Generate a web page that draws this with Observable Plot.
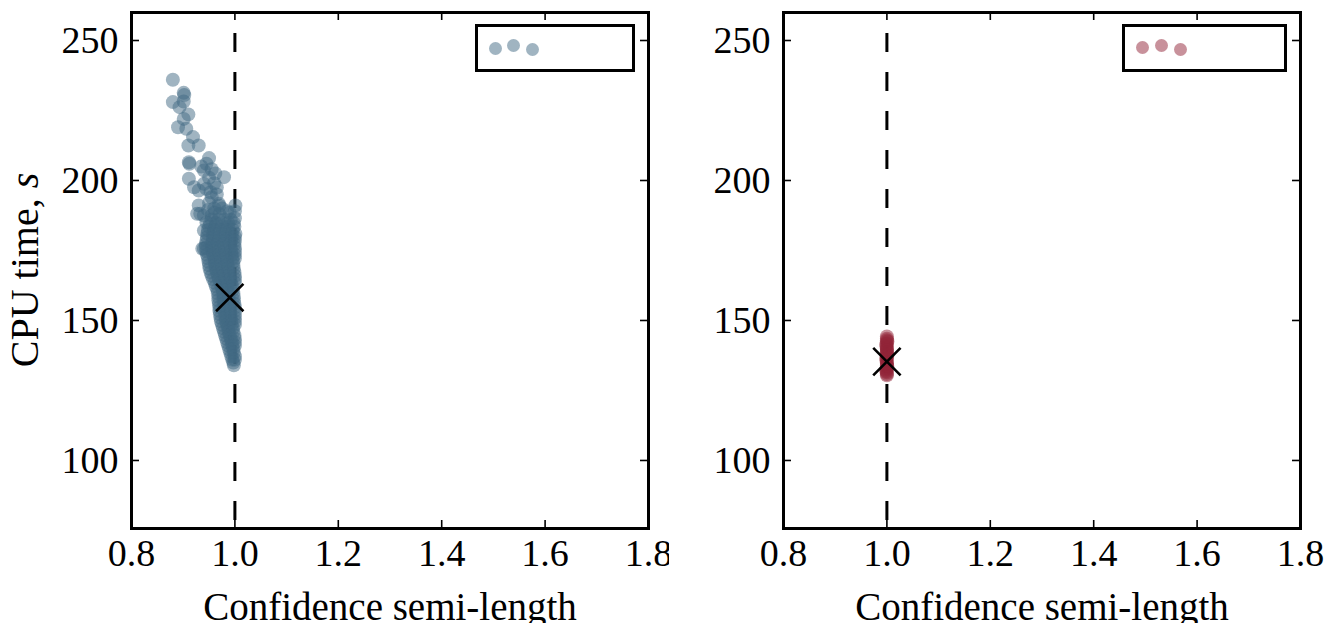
<!DOCTYPE html>
<html><head><meta charset="utf-8">
<script src="https://cdn.jsdelivr.net/npm/d3@7"></script>
<script src="https://cdn.jsdelivr.net/npm/@observablehq/plot@0.6"></script>
<style>
body{margin:0;background:#fff;}
#wrap{position:relative;width:1338px;height:623px;display:flex;overflow:hidden;}
#wrap svg{flex:none;}
.legend{position:absolute;border:3px solid #000;box-sizing:border-box;background:#fff;}
.legend span{position:absolute;width:13px;height:13px;border-radius:50%;}
</style></head><body><div id="wrap"></div>
<script>
// ---- data ----
const xTicks = [0.8, 1.0, 1.2, 1.4, 1.6, 1.8];
const yTicks = [100, 150, 200, 250];
const xDomain = [0.8, 1.8];
const yDomain = [75.7, 260];
const xLabel = "Confidence semi-length";
const yLabelMain = "CPU time, ";
const yLabelVar = "s";
const refX = 1.0;

// left panel: [semi-length, CPU time]
const leftPoints = [
  [0.880,236.0],[0.901,231.3],[0.902,230.5],[0.880,228.0],[0.901,228.2],[0.893,226.2],
  [0.910,223.6],[0.901,222.0],[0.890,219.0],[0.906,218.5],[0.919,215.5],[0.910,212.5],
  [0.930,212.5],[0.950,208.0],[0.911,206.5],[0.912,206.0],[0.940,203.6],[0.979,201.2],
  [0.911,200.6],[0.921,197.6],[0.940,198.8],[0.953,195.8],[0.930,191.1],[0.933,188.1],
  [0.969,191.7],[0.970,191.0],[1.001,191.1],[0.940,182.1],[0.940,175.6],[0.930,196.4],
  [0.927,188.1],[0.940,187.5],[0.937,175.6],[0.935,205.0],[0.945,206.0],[0.955,204.0],
  [0.950,201.0],[0.960,199.0],[0.945,197.0],[0.955,194.0],[0.965,195.0],[0.950,192.0],
  [0.960,190.0],[0.970,188.0],[0.955,187.5],[0.945,185.0],[0.985,189.0],[0.962,202.5],
  [0.990,188.5],[1.000,189.0],[0.975,190.0],[0.960,188.5],[0.948,189.5],[0.965,197.5],
  [0.955,186.0],[0.968,186.0],[0.980,186.0],[0.992,186.0],[1.000,186.5],
  [0.952,184.7],[0.963,184.7],[0.975,184.7],[0.987,184.7],[0.998,184.7],
  [0.950,183.5],[0.962,183.5],[0.975,183.5],[0.987,183.5],[0.999,183.5],
  [0.948,182.2],[0.960,182.2],[0.972,182.2],[0.984,182.2],[0.996,182.2],
  [0.947,181.0],[0.958,181.0],[0.970,181.0],[0.982,181.0],[0.994,181.0],[1.001,181.0],
  [0.946,179.7],[0.958,179.7],[0.970,179.7],[0.982,179.7],[0.994,179.7],[1.000,179.7],
  [0.945,178.5],[0.957,178.5],[0.969,178.5],[0.981,178.5],[0.993,178.5],[1.000,178.5],
  [0.944,177.2],[0.955,177.2],[0.966,177.2],[0.978,177.2],[0.990,177.2],[0.999,177.2],
  [0.944,176.0],[0.956,176.0],[0.968,176.0],[0.980,176.0],[0.992,176.0],[1.000,176.0],
  [0.945,174.7],[0.957,174.7],[0.969,174.7],[0.981,174.7],[0.993,174.7],[1.000,174.7],
  [0.946,173.5],[0.958,173.5],[0.970,173.5],[0.982,173.5],[0.994,173.5],[1.000,173.5],
  [0.948,172.2],[0.960,172.2],[0.972,172.2],[0.984,172.2],[0.995,172.2],[1.000,172.2],
  [0.949,171.0],[0.961,171.0],[0.973,171.0],[0.985,171.0],[0.997,171.0],
  [0.950,169.7],[0.962,169.7],[0.974,169.7],[0.986,169.7],[0.997,169.7],
  [0.951,168.5],[0.963,168.5],[0.975,168.5],[0.987,168.5],[0.998,168.5],
  [0.953,167.2],[0.965,167.2],[0.977,167.2],[0.988,167.2],[0.999,167.2],
  [0.955,166.0],[0.967,166.0],[0.978,166.0],[0.989,166.0],[1.000,166.0],
  [0.958,164.7],[0.969,164.7],[0.980,164.7],[0.991,164.7],[1.000,164.7],
  [0.961,163.5],[0.972,163.5],[0.983,163.5],[0.993,163.5],[1.000,163.5],
  [0.963,162.2],[0.974,162.2],[0.985,162.2],[0.995,162.2],
  [0.966,161.0],[0.976,161.0],[0.986,161.0],[0.996,161.0],
  [0.967,159.7],[0.977,159.7],[0.987,159.7],[0.997,159.7],
  [0.968,158.5],[0.978,158.5],[0.988,158.5],[0.998,158.5],
  [0.968,157.2],[0.978,157.2],[0.988,157.2],[0.998,157.2],
  [0.969,156.0],[0.979,156.0],[0.989,156.0],[0.999,156.0],
  [0.970,154.7],[0.980,154.7],[0.990,154.7],[1.000,154.7],
  [0.970,153.5],[0.980,153.5],[0.990,153.5],[1.000,153.5],
  [0.971,152.2],[0.981,152.2],[0.991,152.2],[1.000,152.2],
  [0.972,151.0],[0.982,151.0],[0.992,151.0],[1.000,151.0],
  [0.973,149.7],[0.983,149.7],[0.993,149.7],[1.000,149.7],
  [0.975,148.5],[0.985,148.5],[0.994,148.5],[1.000,148.5],
  [0.977,147.2],[0.987,147.2],[0.996,147.2],
  [0.979,146.0],[0.988,146.0],[0.997,146.0],
  [0.981,144.7],[0.990,144.7],[0.999,144.7],
  [0.983,143.5],[0.992,143.5],[1.000,143.5],
  [0.985,142.2],[0.994,142.2],[1.000,142.2],
  [0.987,141.0],[0.995,141.0],[1.000,141.0],
  [0.989,139.7],[0.997,139.7],
  [0.991,138.5],[0.998,138.5],
  [0.993,137.2],[1.000,137.2],
  [0.995,136.0],[1.000,136.0],
  [0.997,135.0],[0.998,134.0]
];
const rightPoints = [
  [1.000,130.4],[1.000,130.9],[1.000,131.5],[0.999,131.9],[0.999,132.5],[1.000,132.9],
  [1.001,133.5],[1.000,133.9],[1.000,134.5],[1.000,134.9],[1.000,135.5],[0.999,135.9],
  [0.999,136.5],[1.000,136.9],[1.001,137.5],[1.000,137.9],[1.000,138.5],[1.000,138.9],
  [1.000,139.5],[1.000,139.9],[1.000,140.5],[0.999,140.9],[0.999,141.5],[1.000,141.9],
  [1.001,142.5],[1.000,142.9],[1.000,143.5],[1.000,144.3]
];
const leftBest = [0.990, 158.2];
const rightBest = [1.000, 135.3];
const leftColor = "#416983";
const rightColor = "#912337";

// ---- drawing ----
const W = 669, H = 623, MT = 12, MB = 95;
function panel({points, color, best, marginLeft, marginRight}) {
  const fw = W - marginLeft - marginRight, fh = H - MT - MB;
  return Plot.plot({
    width: W, height: H, marginLeft, marginRight, marginTop: MT, marginBottom: MB,
    style: {fontFamily: "'Liberation Serif', 'DejaVu Serif', serif", fontSize: "38px", color: "#000", background: "#fff", overflow: "visible"},
    x: {domain: xDomain},
    y: {domain: yDomain},
    marks: [
      Plot.ruleX([refX], {stroke: "#000", strokeWidth: 3, strokeDasharray: "19,20", strokeDashoffset: 18}),
      Plot.dot(points, {x: d => d[0], y: d => d[1], r: 7, fill: color, fillOpacity: 0.5, stroke: "none"}),
      Plot.dot([best], {x: d => d[0], y: d => d[1], symbol: "times", r: 12.5, stroke: "#000", strokeWidth: 2.6}),
      Plot.tickX(xTicks, {x: d => d, insetTop: fh - 8, strokeWidth: 1.6}),
      Plot.tickX(xTicks, {x: d => d, insetBottom: fh - 8, strokeWidth: 1.6}),
      Plot.tickY(yTicks, {y: d => d, insetRight: fw - 8, strokeWidth: 1.6}),
      Plot.tickY(yTicks, {y: d => d, insetLeft: fw - 8, strokeWidth: 1.6}),
      Plot.frame({stroke: "#000", strokeWidth: 3}),
      Plot.axisX(xTicks, {tickSize: 0, tickPadding: 11, label: null, tickFormat: d3.format(".1f")}),
      Plot.axisY(yTicks, {tickSize: 0, tickPadding: 13, label: null}),
      Plot.text([xLabel], {frameAnchor: "bottom", dy: 79, text: d => d, fontSize: 39, lineAnchor: "middle"})
    ]
  });
}
const wrap = document.getElementById("wrap");
const left = panel({points: leftPoints, color: leftColor, best: leftBest, marginLeft: 131, marginRight: 21});
const right = panel({points: rightPoints, color: rightColor, best: rightBest, marginLeft: 114, marginRight: 38});
wrap.appendChild(left);
wrap.appendChild(right);

// y axis label with italic variable
const t = d3.select(left).append("text")
  .attr("transform", "translate(38,270) rotate(-90)")
  .attr("text-anchor", "middle")
  .attr("fill", "#000")
  .style("font-size", "40px");
t.append("tspan").text(yLabelMain);
t.append("tspan").attr("font-style", "italic").text(yLabelVar);

// legend boxes (three scatter markers, no label)
function legend(x, y, w, color, dots) {
  const box = document.createElement("div");
  box.className = "legend";
  Object.assign(box.style, {left: x + "px", top: y + "px", width: w + "px", height: "48px"});
  for (const [cx, cy] of dots) {
    const s = document.createElement("span");
    Object.assign(s.style, {left: (cx - 6.5) + "px", top: (cy - 6.5) + "px", background: color, opacity: 0.5});
    box.appendChild(s);
  }
  wrap.appendChild(box);
}
legend(475, 24, 160, leftColor, [[17, 21.3], [35.3, 18.7], [54.7, 22.3]]);
legend(1122, 24, 165, rightColor, [[17.3, 20.7], [36, 18.7], [55, 22]]);
</script>
</body></html>
